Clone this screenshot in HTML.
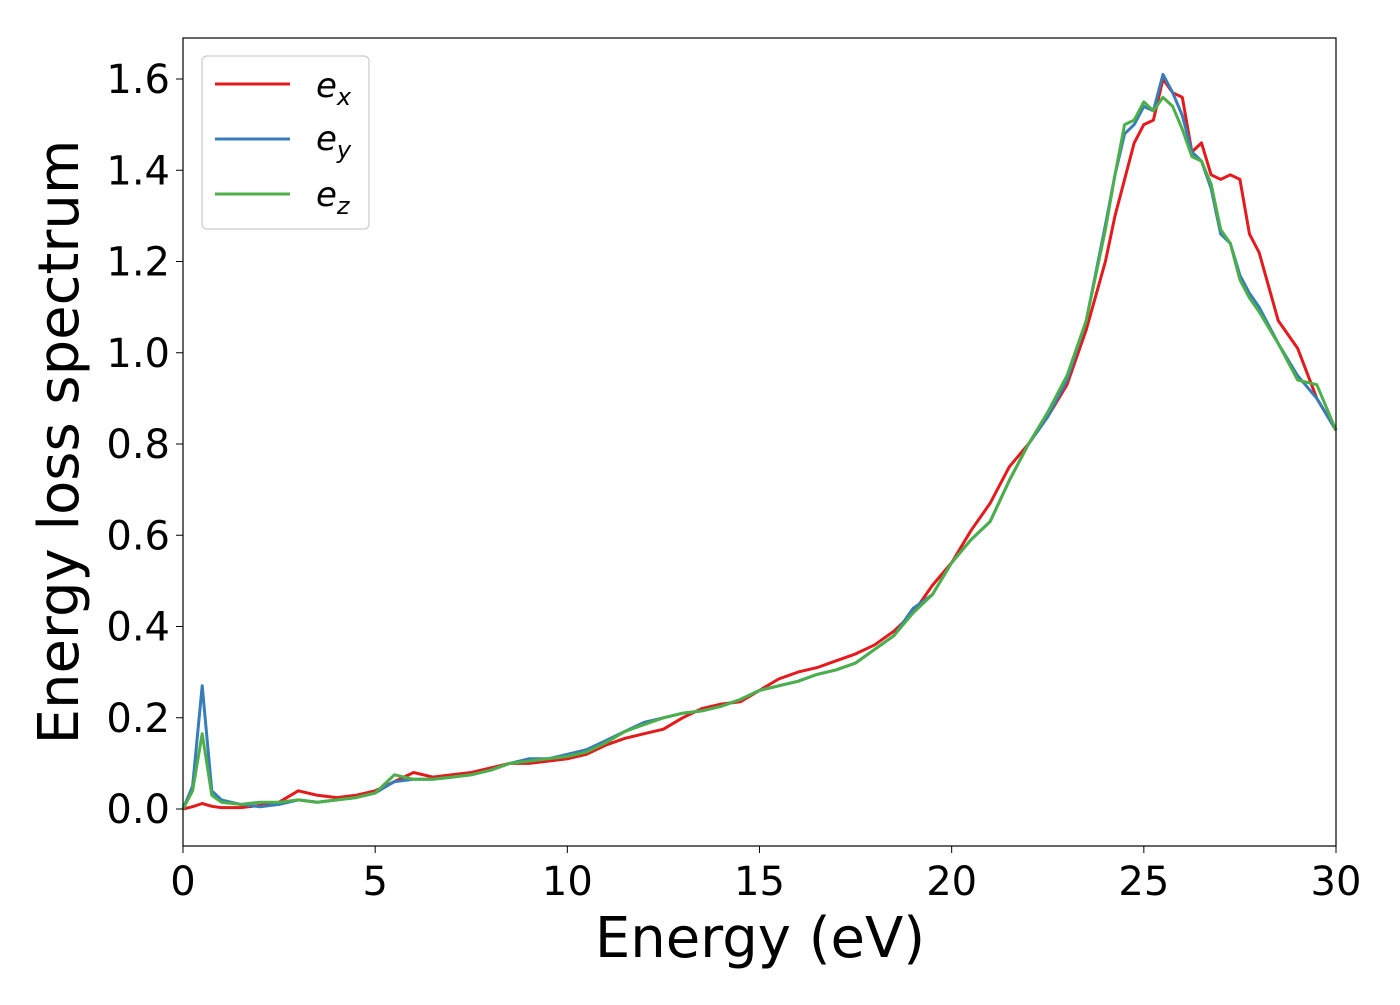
<!DOCTYPE html>
<html><head><meta charset="utf-8"><style>
body{margin:0;background:#fff}
svg text{font-family:"DejaVu Sans","Liberation Sans",sans-serif}
</style></head><body>
<svg id="chart" width="1400" height="1000" xmlns="http://www.w3.org/2000/svg">
<rect width="1400" height="1000" fill="#fff"/>
<g id="series"></g>
<rect x="183" y="38" width="1153" height="808" fill="none" stroke="#000" stroke-width="1.2"/>
<g id="ticks"></g>
<text x="760" y="957" font-size="56" text-anchor="middle">Energy (eV)</text>
<text transform="translate(78,442) rotate(-90)" font-size="56" text-anchor="middle">Energy loss spectrum</text>
<g>
<rect x="202" y="56" width="167" height="173" rx="5" fill="#fff" stroke="#ccc" stroke-width="1.2"/>
<line x1="215" y1="84" x2="290" y2="84" stroke="#e41a1c" stroke-width="3"/>
<text x="316" y="97" font-size="34" font-style="italic">e<tspan font-size="24" dy="8">x</tspan></text>
<line x1="215" y1="139" x2="290" y2="139" stroke="#377eb8" stroke-width="3"/>
<text x="316" y="150" font-size="34" font-style="italic">e<tspan font-size="24" dy="8">y</tspan></text>
<line x1="215" y1="194" x2="290" y2="194" stroke="#4daf4a" stroke-width="3"/>
<text x="316" y="206" font-size="34" font-style="italic">e<tspan font-size="24" dy="8">z</tspan></text>
</g>
</svg>
<script>
const energies=[0,0.25,0.5,0.75,1,1.5,2,2.5,3,3.5,4,4.5,5,5.5,6,6.5,7,7.5,8,8.5,9,9.5,10,10.5,11,11.5,12,12.5,13,13.5,14,14.5,15,15.5,16,16.5,17,17.5,18,18.5,19,19.5,20,20.5,21,21.5,22,22.5,23,23.5,24,24.25,24.5,24.75,25,25.25,25.5,25.75,26,26.25,26.5,26.75,27,27.25,27.5,27.75,28,28.5,29,29.5,30];
const ex=[0,0.005,0.012,0.006,0.003,0.003,0.008,0.015,0.04,0.03,0.025,0.03,0.04,0.06,0.08,0.07,0.075,0.08,0.09,0.1,0.1,0.105,0.11,0.12,0.14,0.155,0.165,0.175,0.2,0.22,0.23,0.235,0.26,0.285,0.3,0.31,0.325,0.34,0.36,0.39,0.43,0.49,0.54,0.61,0.67,0.75,0.8,0.86,0.93,1.05,1.2,1.3,1.38,1.46,1.5,1.51,1.6,1.57,1.56,1.44,1.46,1.39,1.38,1.39,1.38,1.26,1.22,1.07,1.01,0.9,0.83];
const ey=[0,0.05,0.27,0.04,0.02,0.01,0.005,0.01,0.02,0.015,0.02,0.025,0.035,0.06,0.065,0.065,0.07,0.075,0.085,0.1,0.11,0.11,0.12,0.13,0.15,0.17,0.19,0.2,0.21,0.215,0.225,0.24,0.26,0.27,0.28,0.295,0.305,0.32,0.35,0.38,0.44,0.47,0.54,0.59,0.63,0.72,0.8,0.86,0.94,1.07,1.28,1.39,1.48,1.5,1.54,1.53,1.61,1.57,1.52,1.44,1.42,1.36,1.26,1.24,1.17,1.13,1.1,1.02,0.95,0.9,0.83];
const ez=[0,0.04,0.165,0.03,0.015,0.01,0.015,0.015,0.02,0.015,0.02,0.025,0.035,0.075,0.065,0.065,0.07,0.075,0.085,0.1,0.105,0.11,0.115,0.125,0.145,0.17,0.185,0.2,0.21,0.215,0.225,0.24,0.26,0.27,0.28,0.295,0.305,0.32,0.35,0.38,0.43,0.47,0.54,0.59,0.63,0.72,0.8,0.87,0.95,1.07,1.27,1.39,1.5,1.51,1.55,1.53,1.56,1.54,1.49,1.43,1.42,1.37,1.27,1.24,1.16,1.12,1.09,1.02,0.94,0.93,0.83];
const xTicks=[0,5,10,15,20,25,30];
const yTicks=[0,0.2,0.4,0.6,0.8,1.0,1.2,1.4,1.6];
const NS='http://www.w3.org/2000/svg';
function X(v){return 183+v*(1153/30);}
function Y(v){return 809-v*456.25;}
const g=document.getElementById('series');
[[ex,'#e41a1c','line-ex'],[ey,'#377eb8','line-ey'],[ez,'#4daf4a','line-ez']].forEach(s=>{
 const p=document.createElementNS(NS,'polyline');
 p.setAttribute('points',s[0].map((v,i)=>X(energies[i]).toFixed(1)+','+Y(v).toFixed(1)).join(' '));
 p.setAttribute('fill','none');p.setAttribute('stroke',s[1]);p.setAttribute('stroke-width','3');p.setAttribute('stroke-linejoin','round');
 
 
 g.appendChild(p);
});
const t=document.getElementById('ticks');
xTicks.forEach(v=>{
 const l=document.createElementNS(NS,'line');
 l.setAttribute('x1',X(v));l.setAttribute('x2',X(v));l.setAttribute('y1',846);l.setAttribute('y2',853);l.setAttribute('stroke','#000');
 
 
 t.appendChild(l);
 const tx=document.createElementNS(NS,'text');
 tx.setAttribute('x',X(v));tx.setAttribute('y',895);tx.setAttribute('font-size','40');tx.setAttribute('text-anchor','middle');
 tx.textContent=v;
 
 
 t.appendChild(tx);
});
yTicks.forEach(v=>{
 const l=document.createElementNS(NS,'line');
 l.setAttribute('x1',176);l.setAttribute('x2',183);l.setAttribute('y1',Y(v));l.setAttribute('y2',Y(v));l.setAttribute('stroke','#000');
 
 
 t.appendChild(l);
 const tx=document.createElementNS(NS,'text');
 tx.setAttribute('x',170);tx.setAttribute('y',Y(v)+14);tx.setAttribute('font-size','40');tx.setAttribute('text-anchor','end');
 tx.textContent=v.toFixed(1);
 
 
 t.appendChild(tx);
});
</script>
</body></html>
